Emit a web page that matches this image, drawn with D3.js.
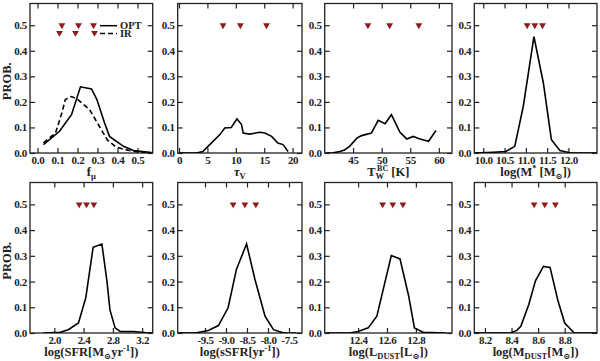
<!DOCTYPE html>
<html>
<head>
<meta charset="utf-8">
<script src="https://cdn.jsdelivr.net/npm/d3@7"></script>
<style>
  body { margin: 0; background: #fff; }
  text { font-family: "Liberation Serif", "DejaVu Serif", serif; font-weight: bold; fill: #222; }
</style>
</head>
<body>
<div id="chart"></div>
<script>
// ---- data ----
const yTicks = [0.0, 0.1, 0.2, 0.3, 0.4, 0.5];

// f_mu
const fmuTicks = [0.0, 0.1, 0.2, 0.3, 0.4, 0.5];
const fmuOpt = [[0.03,0.033],[0.11,0.085],[0.17,0.15],[0.215,0.259],[0.27,0.251],[0.297,0.209],[0.335,0.118],[0.36,0.065],[0.43,0.026],[0.48,0.01],[0.57,0.002]];
const fmuIR  = [[0.03,0.04],[0.09,0.078],[0.122,0.157],[0.139,0.209],[0.17,0.221],[0.2,0.21],[0.23,0.19],[0.26,0.17],[0.29,0.13],[0.32,0.09],[0.35,0.05],[0.39,0.025],[0.43,0.015],[0.47,0.008],[0.52,0.002],[0.57,0.0]];
const fmuOptPct = [0.122, 0.205, 0.28];
const fmuIRPct  = [0.11, 0.19, 0.285];

// tau_V
const tauTicks = [0, 5, 10, 15, 20];
const tauV = [[0.1,0],[3.06,0],[4.2,0.006],[5.1,0.026],[7.2,0.072],[8.05,0.098],[9.2,0.1],[10.2,0.134],[11.0,0.111],[11.3,0.078],[12.4,0.074],[14.2,0.081],[15.1,0.078],[16.3,0.065],[17.4,0.039],[18.3,0.033],[19.2,0.006]];
const tauPct = [7.75, 10.8, 15.4];

// T_W^BC
const twTicks = [45, 50, 55, 60];
const tw = [[40.3,0],[41.5,0.001],[42.7,0.006],[43.5,0.012],[44.4,0.026],[45.7,0.059],[46.5,0.068],[48.2,0.078],[49.4,0.128],[50.6,0.115],[51.7,0.15],[53.2,0.081],[54.4,0.055],[55.5,0.065],[56.7,0.055],[58.2,0.046],[59.5,0.088]];
const twPct = [47.6, 51.4, 56.5];

// log M*
const mstarTicks = [10.0, 10.5, 11.0, 11.5, 12.0];
const mstar = [[9.8,0],[10.23,0.003],[10.53,0.006],[10.74,0.026],[10.94,0.183],[11.19,0.455],[11.41,0.275],[11.6,0.052],[11.8,0.01],[12.03,0.001],[12.66,0]];
const mstarPct = [11.03, 11.21, 11.39];

// log SFR
const sfrTicks = [2.0, 2.4, 2.8, 3.2];
const sfr = [[1.85,0],[2.08,0.003],[2.19,0.013],[2.33,0.039],[2.43,0.137],[2.53,0.333],[2.65,0.346],[2.72,0.2],[2.76,0.09],[2.83,0.02],[2.9,0.006],[3.08,0.006],[3.26,0.001],[3.34,0]];
const sfrPct = [2.34, 2.44, 2.54];

// log sSFR
const ssfrTicks = [-9.5, -9.0, -8.5, -8.0, -7.5];
const ssfr = [[-10.14,0],[-9.7,0.001],[-9.42,0.01],[-9.18,0.029],[-8.95,0.098],[-8.75,0.248],[-8.51,0.346],[-8.31,0.208],[-8.07,0.065],[-7.87,0.013],[-7.64,0.001],[-7.32,0]];
const ssfrPct = [-8.83, -8.55, -8.29];

// log L_dust
const ldustTicks = [12.4, 12.6, 12.8];
const ldust = [[12.18,0],[12.34,0],[12.4,0.006],[12.47,0.02],[12.53,0.065],[12.63,0.301],[12.69,0.288],[12.75,0.144],[12.79,0.02],[12.85,0.003],[13.01,0]];
const ldustPct = [12.57, 12.64, 12.71];

// log M_dust
const mdustTicks = [8.2, 8.4, 8.6, 8.8];
const mdust = [[8.12,0],[8.39,0],[8.44,0.01],[8.47,0.026],[8.53,0.111],[8.58,0.203],[8.64,0.259],[8.69,0.255],[8.75,0.124],[8.8,0.039],[8.87,0.001],[9.04,0]];
const mdustPct = [8.57, 8.65, 8.73];

// ---- layout ----
const W = 600, H = 361;
const rows = [[3.5, 153], [182.5, 333]];
const cols = [[30, 152.7], [177.7, 302], [324.7, 452], [474.3, 597]];
const markColor = "#921a1a";

// plain hyphen for negatives, like the original
const f1 = d => d3.format(".1f")(d).replace("−", "-");
const f0 = d => d3.format("d")(d).replace("−", "-");

const panels = [
  { row: 0, col: 0, domain: [-0.0375, 0.576], ticks: fmuTicks, fmt: f1,
    lines: [{ d: fmuOpt }, { d: fmuIR, dash: "5,3" }],
    marks: [{ v: fmuOptPct, y: 0.5 }, { v: fmuIRPct, y: 0.47 }],
    title: [["f"], ["μ", "sub"]] },
  { row: 0, col: 1, domain: [-0.23, 21.65], ticks: tauTicks, fmt: f0,
    lines: [{ d: tauV }], marks: [{ v: tauPct, y: 0.5 }],
    title: [["τ", null, true], ["V", "sub"]] },
  { row: 0, col: 2, domain: [40.04, 62.3], ticks: twTicks, fmt: f0,
    lines: [{ d: tw }], marks: [{ v: twPct, y: 0.5 }],
    title: [["T"], ["W", "sub"], ["BC", "supx"], [" [K]"]] },
  { row: 0, col: 3, domain: [9.79, 12.67], ticks: mstarTicks, fmt: f1,
    lines: [{ d: mstar }], marks: [{ v: mstarPct, y: 0.5 }],
    title: [["log(M"], ["*", "sup"], [" [M"], ["⊙", "sub"], ["])"]] },
  { row: 1, col: 0, domain: [1.668, 3.344], ticks: sfrTicks, fmt: f1,
    lines: [{ d: sfr }], marks: [{ v: sfrPct, y: 0.5 }],
    title: [["log(SFR[M"], ["⊙", "sub"], ["yr"], ["-1", "sup"], ["])"]] },
  { row: 1, col: 1, domain: [-10.15, -7.19], ticks: ssfrTicks, fmt: f1,
    lines: [{ d: ssfr }], marks: [{ v: ssfrPct, y: 0.5 }],
    title: [["log(sSFR[yr"], ["-1", "sup"], ["])"]] },
  { row: 1, col: 2, domain: [12.169, 13.05], ticks: ldustTicks, fmt: f1,
    lines: [{ d: ldust }], marks: [{ v: ldustPct, y: 0.5 }],
    title: [["log(L"], ["DUST", "sub"], ["[L"], ["⊙", "sub"], ["])"]] },
  { row: 1, col: 3, domain: [8.12, 9.043], ticks: mdustTicks, fmt: f1,
    lines: [{ d: mdust }], marks: [{ v: mdustPct, y: 0.5 }],
    title: [["log(M"], ["DUST", "sub"], ["[M"], ["⊙", "sub"], ["])"]] }
];

const svg = d3.select("#chart").append("svg")
  .attr("width", W).attr("height", H);

panels.forEach(p => {
  const [x0, x1] = cols[p.col];
  const [y0, y1] = rows[p.row];
  const x = d3.scaleLinear().domain(p.domain).range([x0, x1]);
  const y = d3.scaleLinear().domain([0, 0.585]).range([y1, y0]);

  const g = svg.append("g");
  const clipId = "clip" + p.row + p.col;
  g.append("clipPath").attr("id", clipId)
    .append("rect").attr("x", x0).attr("y", y0).attr("width", x1 - x0).attr("height", y1 - y0);

  // axes, ticks pointing inward on all four sides
  g.append("g").attr("transform", `translate(0,${y1})`)
    .call(d3.axisBottom(x).tickValues(p.ticks).tickFormat(p.fmt).tickSize(-5).tickPadding(3));
  g.append("g").attr("transform", `translate(0,${y0})`)
    .call(d3.axisTop(x).tickValues(p.ticks).tickFormat("").tickSize(-5));
  g.append("g").attr("transform", `translate(${x0},0)`)
    .call(d3.axisLeft(y).tickValues(yTicks).tickFormat(f1).tickSize(-5).tickPadding(3));
  g.append("g").attr("transform", `translate(${x1},0)`)
    .call(d3.axisRight(y).tickValues(yTicks).tickFormat("").tickSize(-5));
  g.selectAll(".domain").remove();
  g.selectAll(".tick line").attr("stroke", "#222").attr("stroke-width", 1.2);
  g.selectAll(".tick text").attr("font-size", 11).attr("letter-spacing", -0.3)
    .attr("font-family", "Liberation Serif, serif")
    .attr("font-weight", "bold").attr("fill", "#222");

  g.append("rect")
    .attr("x", x0).attr("y", y0).attr("width", x1 - x0).attr("height", y1 - y0)
    .attr("fill", "none").attr("stroke", "#222").attr("stroke-width", 1.3);

  const line = d3.line().x(d => x(d[0])).y(d => y(d[1]));
  p.lines.forEach(l => {
    g.append("path").datum(l.d)
      .attr("clip-path", `url(#${clipId})`)
      .attr("d", line)
      .attr("fill", "none").attr("stroke", "#000").attr("stroke-width", 1.6)
      .attr("stroke-dasharray", l.dash || null);
  });

  const tri = d3.symbol().type(d3.symbolTriangle).size(20);
  p.marks.forEach(m => {
    g.selectAll(null).data(m.v).enter().append("path")
      .attr("d", tri)
      .attr("transform", d => `translate(${x(d)},${y(m.y)}) rotate(180)`)
      .attr("fill", markColor);
  });

  // x title with sub/superscripts
  const t = g.append("text")
    .attr("x", (x0 + x1) / 2).attr("y", y1 + 22.5)
    .attr("text-anchor", "middle").attr("font-size", 12.5);
  let shift = 0;
  p.title.forEach(seg => {
    const [txt, kind, ital] = seg;
    let target = 0, size = 12.5, dx = null;
    if (kind === "sub") { target = 3; size = 8.5; }
    if (kind === "sup") { target = -4.5; size = 8.5; }
    if (kind === "supx") { target = -4.5; size = 8; dx = -7; }
    const ts = t.append("tspan").text(txt)
      .attr("font-size", size)
      .attr("dy", target - shift);
    if (dx !== null) ts.attr("dx", dx);
    if (ital) ts.attr("font-style", "italic");
    shift = target;
  });

  if (p.col === 0) {
    g.append("text")
      .attr("transform", `translate(11,${(y0 + y1) / 2 + 3}) rotate(-90)`)
      .attr("text-anchor", "middle").attr("font-size", 12.5)
      .text("PROB.");
  }
});

// legend in first panel
const leg = svg.append("g");
const legItems = [{ label: "OPT", y: 25.7, dash: null }, { label: "IR", y: 33.6, dash: "5,3" }];
legItems.forEach(it => {
  leg.append("line").attr("x1", 100).attr("x2", 117).attr("y1", it.y).attr("y2", it.y)
    .attr("stroke", "#000").attr("stroke-width", 1.5).attr("stroke-dasharray", it.dash);
  leg.append("text").attr("x", 120).attr("y", it.y + 3.5).attr("font-size", 10.5).text(it.label);
});
</script>
</body>
</html>
